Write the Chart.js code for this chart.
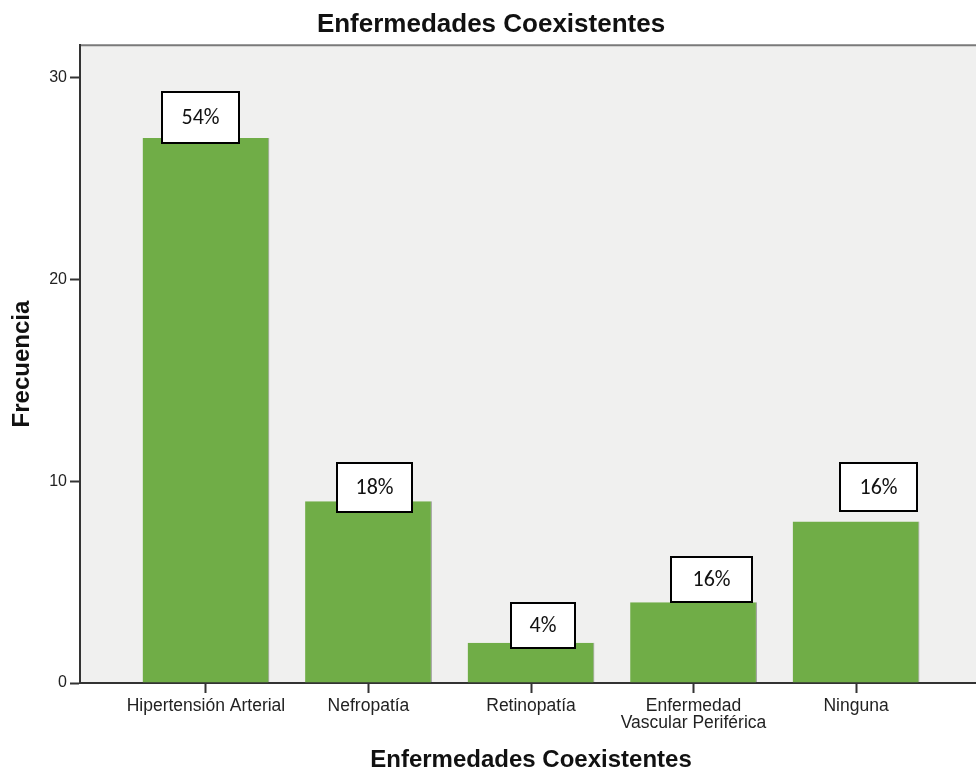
<!DOCTYPE html>
<html lang="es">
<head>
<meta charset="UTF-8" />
<title>Enfermedades Coexistentes</title>
<script src="https://cdn.jsdelivr.net/npm/chart.js@4.4.1/dist/chart.umd.min.js"></script>
<style>
/* ─── page ───────────────────────────────────────────── */
html,body{margin:0;padding:0;background:#fff;overflow:hidden}
.wrap{width:990px;height:772px}
</style>
</head>
<body>
<div class="wrap"><canvas id="chart" width="990" height="772"></canvas></div>

<script>
/* ── data ──────────────────────────────────────────────── */
const categories = ['Hipertensión Arterial','Nefropatía','Retinopatía','Enfermedad Vascular Periférica','Ninguna'];
const tickLabels = ['Hipertensión Arterial','Nefropatía','Retinopatía',['Enfermedad','Vascular Periférica'],'Ninguna'];
const frecuencia = [27, 9, 2, 4, 8];
const percentLabels = ['54%','18%','4%','16%','16%'];
const yTicks = [0, 10, 20, 30];

/* ── label boxes: offset from bar centre / bar top (px) ── */
const boxLayout = [
  {dx:-5,  dy:5,   w:77, h:51},
  {dx:6,   dy:11,  w:75, h:49},
  {dx:12,  dy:5,   w:64, h:45},
  {dx:18,  dy:0,   w:81, h:45},
  {dx:22,  dy:-11, w:77, h:48}
];

const plotBg = {
  id:'plotBg',
  beforeDraw(chart){
    const {ctx, chartArea:a} = chart;
    ctx.save();
    ctx.fillStyle = '#f0f0ef';
    ctx.fillRect(a.left, a.top, a.right - a.left, a.bottom - a.top);
    ctx.strokeStyle = '#7a7a7a';
    ctx.lineWidth = 2;
    ctx.beginPath();
    ctx.moveTo(a.left, a.top);
    ctx.lineTo(a.right, a.top);
    ctx.stroke();
    ctx.restore();
  }
};

const pctBoxes = {
  id:'pctBoxes',
  afterDatasetsDraw(chart){
    const ctx = chart.ctx;
    const meta = chart.getDatasetMeta(0);
    ctx.save();
    meta.data.forEach((bar, i) => {
      const b = boxLayout[i];
      const x = Math.round(bar.x + b.dx - b.w / 2);
      const y = Math.round(bar.y + b.dy - b.h);
      ctx.fillStyle = '#fff';
      ctx.fillRect(x, y, b.w, b.h);
      ctx.strokeStyle = '#000';
      ctx.lineWidth = 2;
      ctx.strokeRect(x, y, b.w, b.h);
      ctx.fillStyle = '#111';
      ctx.font = '22px Carlito, Lato, sans-serif';
      ctx.textAlign = 'center';
      ctx.textBaseline = 'middle';
      ctx.fillText(percentLabels[i], x + b.w / 2, y + b.h / 2 + 1);
    });
    ctx.restore();
  }
};

new Chart(document.getElementById('chart'), {
  type:'bar',
  data:{
    datasets:[{
      label:'Frecuencia',
      data: frecuencia.map((v, i) => ({x:i, y:v})),
      backgroundColor:'#70ad47',
      borderColor:'rgba(70,70,70,0.55)',
      borderWidth:{top:0, left:0, bottom:0, right:1},
      borderSkipped:false,
      barPercentage:0.78,
      categoryPercentage:1
    }]
  },
  options:{
    responsive:false,
    devicePixelRatio:1,
    animation:false,
    layout:{padding:{left:0, right:8, top:0, bottom:0}},
    plugins:{
      legend:{display:false},
      tooltip:{enabled:false},
      title:{
        display:true,
        text:'Enfermedades Coexistentes',
        color:'#111',
        font:{family:'Liberation Sans, Arial, sans-serif', size:26, weight:'bold', lineHeight:1.2},
        padding:{top:9, bottom:5}
      }
    },
    scales:{
      x:{
        type:'linear',
        min:-0.775,
        max:4.775,
        offset:false,
        afterBuildTicks: s => { s.ticks = categories.map((_, i) => ({value:i})); },
        afterFit: s => { s.height = 89; },
        grid:{display:true, drawOnChartArea:false, offset:false, tickLength:10, tickWidth:2, tickColor:'#333'},
        border:{display:true, color:'#333', width:2},
        ticks:{
          autoSkip:false, maxRotation:0, padding:4,
          color:'#222',
          font:{family:'Liberation Sans, Arial, sans-serif', size:17.5, lineHeight:1},
          callback: v => tickLabels[v]
        },
        title:{
          display:true,
          text:'Enfermedades Coexistentes',
          color:'#111',
          font:{family:'Liberation Sans, Arial, sans-serif', size:24, weight:'bold', lineHeight:1},
          padding:{top:0, bottom:0}
        }
      },
      y:{
        min:0,
        max:31.6,
        afterBuildTicks: s => { s.ticks = yTicks.map(v => ({value:v})); },
        afterFit: s => { s.width = 80; },
        grid:{display:true, drawOnChartArea:false, tickLength:10, tickWidth:2, tickColor:'#333'},
        border:{display:true, color:'#333', width:2},
        ticks:{
          padding:3,
          color:'#222',
          font:{family:'Liberation Sans, Arial, sans-serif', size:16}
        },
        title:{
          display:true,
          text:'Frecuencia',
          color:'#111',
          font:{family:'Liberation Sans, Arial, sans-serif', size:24, weight:'bold', lineHeight:1},
          padding:{top:10, bottom:0}
        }
      }
    }
  },
  plugins:[plotBg, pctBoxes]
});
</script>
</body>
</html>
